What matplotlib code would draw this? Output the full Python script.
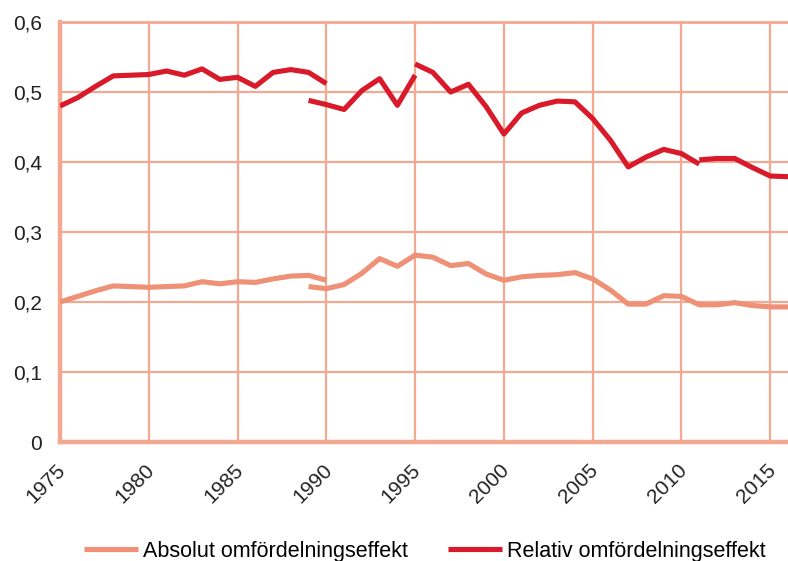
import matplotlib.pyplot as plt
import matplotlib.transforms as mtransforms
import numpy as np

plt.rcParams['font.family'] = ['Liberation Sans', 'DejaVu Sans']

# Relativ omfördelningseffekt, split into the segments as in the source
rel_years_a = list(range(1975, 1991))
rel_vals_a = [0.480, 0.492, 0.508, 0.523, 0.524, 0.525, 0.530, 0.524, 0.533, 0.518,
              0.521, 0.508, 0.528, 0.532, 0.528, 0.512]
rel_years_b = list(range(1989, 1996))
rel_vals_b = [0.488, 0.482, 0.475, 0.502, 0.519, 0.481, 0.524]
rel_years_c = list(range(1995, 2012))
rel_vals_c = [0.540, 0.528, 0.500, 0.511, 0.479, 0.440, 0.470, 0.481, 0.487, 0.486,
              0.462, 0.431, 0.393, 0.407, 0.418, 0.412, 0.397]
rel_years_d = list(range(2011, 2017))
rel_vals_d = [0.403, 0.405, 0.405, 0.392, 0.380, 0.379]

# Absolut omfördelningseffekt
abs_years_a = list(range(1975, 1991))
abs_vals_a = [0.200, 0.208, 0.216, 0.223, 0.222, 0.221, 0.222, 0.223, 0.229, 0.226,
              0.229, 0.228, 0.233, 0.237, 0.238, 0.231]
abs_years_b = list(range(1989, 2017))
abs_vals_b = [0.222, 0.219, 0.225, 0.241, 0.262, 0.251, 0.267, 0.264, 0.252, 0.255,
              0.240, 0.231, 0.236, 0.238, 0.239, 0.242, 0.233, 0.217, 0.197, 0.197,
              0.209, 0.208, 0.196, 0.196, 0.199, 0.195, 0.193, 0.193]

red = '#D91A2A'
salmon = '#EE9176'
grid_c = '#F3A891'

fig = plt.figure(figsize=(7.88, 5.61), dpi=100)
ax = fig.add_axes([60 / 788, 1 - 442 / 561, 1 - 60 / 788, 420 / 561])

lw = 3.7
ax.plot(abs_years_a, abs_vals_a, color=salmon, lw=lw, solid_capstyle='butt',
        label='Absolut omfördelningseffekt', zorder=3)
ax.plot(abs_years_b, abs_vals_b, color=salmon, lw=lw, solid_capstyle='butt', zorder=3)
ax.plot(rel_years_a, rel_vals_a, color=red, lw=lw, solid_capstyle='butt',
        label='Relativ omfördelningseffekt', zorder=4)
for yrs, vals in [(rel_years_b, rel_vals_b), (rel_years_c, rel_vals_c), (rel_years_d, rel_vals_d)]:
    ax.plot(yrs, vals, color=red, lw=lw, solid_capstyle='butt', zorder=4)

ax.set_xlim(1975, 2016)
ax.set_ylim(0, 0.6)
ax.set_xticks(range(1975, 2016, 5))
ax.set_yticks(np.arange(0, 0.61, 0.1))
ax.set_yticklabels(['0', '0,1', '0,2', '0,3', '0,4', '0,5', '0,6'])
ax.grid(True, color=grid_c, lw=1.6, zorder=1)
ax.set_axisbelow(True)
ax.spines['right'].set_visible(False)
ax.spines['top'].set_color(grid_c)
ax.spines['top'].set_linewidth(2.0)
for s in ['left', 'bottom']:
    ax.spines[s].set_color(grid_c)
    ax.spines[s].set_linewidth(3.2)
ax.tick_params(length=0, labelsize=15, colors='#222222')
ax.tick_params(axis='y', pad=13)
ax.tick_params(axis='x', pad=13)
shift = mtransforms.ScaledTranslation(-4 / 100, 0, fig.dpi_scale_trans)
for lab in ax.get_xticklabels():
    lab.set_rotation(45)
    lab.set_ha('right')
    lab.set_va('top')
    lab.set_rotation_mode('anchor')
    lab.set_transform(lab.get_transform() + shift)

fig.legend(loc='center', bbox_to_anchor=(0.539, 0.017), ncol=2, frameon=False,
           fontsize=15.5, handlelength=2.5, handletextpad=0.25, columnspacing=1.85)

fig.savefig('out.png', dpi=100)
